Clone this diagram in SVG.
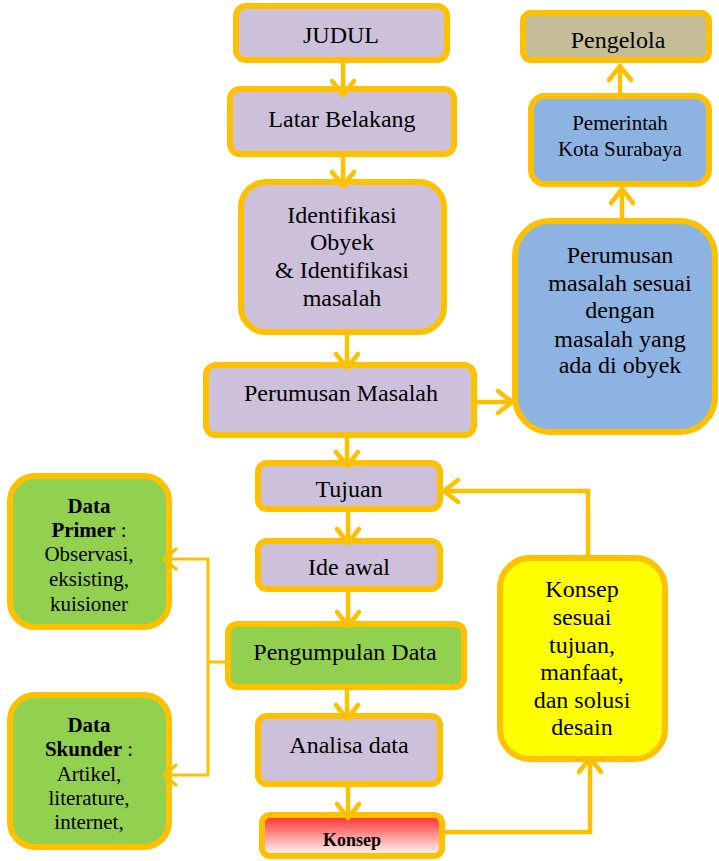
<svg xmlns="http://www.w3.org/2000/svg" width="719" height="861" viewBox="0 0 719 861" font-family="'Liberation Serif', 'Times New Roman', serif">
<style>
.b{stroke:#FFC000;stroke-width:6}
.pu{fill:#CCC0DA}
.gr{fill:#92D050}
.bl{fill:#8DB3E2}
.tn{fill:#C4BD97}
.ye{fill:#FFFF00}
text{font-family:'Liberation Serif','Times New Roman',serif;fill:#000;text-anchor:middle}
.t24{font-size:24px}
.t21{font-size:21px}
.bd{font-weight:bold}
.c{fill:none;stroke:#FFC000;stroke-width:4.5;marker-end:url(#ah)}
.ct{fill:none;stroke:#FFC000;stroke-width:3}
.ctm{fill:none;stroke:#FFC000;stroke-width:3;marker-end:url(#ah2)}
</style>
<defs>
<linearGradient id="red" x1="0" y1="0" x2="0" y2="1">
<stop offset="0" stop-color="#FF2A2A"/>
<stop offset="1" stop-color="#FFFFFF"/>
</linearGradient>
<marker id="ah" markerUnits="userSpaceOnUse" markerWidth="40" markerHeight="40" viewBox="-20 -20 40 40" refX="0" refY="0" orient="auto" overflow="visible">
<path d="M-14,-11 L0,0 L-14,11" fill="none" stroke="#FFC000" stroke-width="4.5" stroke-linecap="round" stroke-linejoin="round"/>
</marker>
<marker id="ah2" markerUnits="userSpaceOnUse" markerWidth="40" markerHeight="40" viewBox="-20 -20 40 40" refX="0" refY="0" orient="auto" overflow="visible">
<path d="M-12,-10 L0,0 L-12,10" fill="none" stroke="#FFC000" stroke-width="3.5" stroke-linecap="round" stroke-linejoin="round"/>
</marker>
</defs>

<g id="judul"><rect class="b pu" x="236" y="6" width="211" height="54" rx="10"/><text class="t24" x="341" y="43">JUDUL</text></g>
<g id="latar"><rect class="b pu" x="230" y="89" width="224" height="65" rx="10"/><text class="t24" x="342" y="127">Latar Belakang</text></g>
<g id="identifikasi"><rect class="b pu" x="241" y="182" width="203" height="150" rx="25"/>
<text class="t24" x="342" y="223">Identifikasi</text><text class="t24" x="342" y="250">Obyek</text><text class="t24" x="342" y="278">&amp; Identifikasi</text><text class="t24" x="342" y="306">masalah</text></g>
<g id="perumusan"><rect class="b pu" x="206" y="365" width="268" height="70" rx="10"/><text class="t24" x="341" y="401">Perumusan Masalah</text></g>
<g id="tujuan"><rect class="b pu" x="258" y="463" width="182" height="46" rx="9"/><text class="t24" x="349" y="497">Tujuan</text></g>
<g id="ideawal"><rect class="b pu" x="258" y="541" width="182" height="48" rx="9"/><text class="t24" x="349" y="575">Ide awal</text></g>
<g id="pengumpulan"><rect class="b gr" x="228" y="624" width="236" height="63" rx="9"/><text class="t24" x="345" y="660">Pengumpulan Data</text></g>
<g id="analisa"><rect class="b pu" x="258" y="716" width="182" height="68" rx="9"/><text class="t24" x="349" y="753">Analisa data</text></g>
<g id="konsep"><rect class="b" fill="url(#red)" x="262" y="815" width="180" height="41" rx="8"/><text class="bd" font-size="18" x="352" y="846">Konsep</text></g>

<g id="pengelola"><rect class="b tn" x="523" y="13" width="186" height="47" rx="8"/><text class="t24" x="618" y="48">Pengelola</text></g>
<g id="pemerintah"><rect class="b bl" x="531" y="96" width="178" height="88" rx="14"/><text class="t21" x="620" y="130">Pemerintah</text><text class="t21" x="620" y="156">Kota Surabaya</text></g>
<g id="perumusan-obyek"><rect class="b bl" x="515" y="221" width="200" height="211" rx="35"/>
<text class="t24" x="620" y="263">Perumusan</text><text class="t24" x="620" y="291">masalah sesuai</text><text class="t24" x="620" y="318">dengan</text><text class="t24" x="620" y="347">masalah yang</text><text class="t24" x="620" y="373">ada di obyek</text></g>
<g id="konsep-sesuai"><rect class="b ye" x="500" y="558" width="165" height="201" rx="30"/>
<text class="t24" x="582" y="597">Konsep</text><text class="t24" x="582" y="625">sesuai</text><text class="t24" x="582" y="653">tujuan,</text><text class="t24" x="582" y="680">manfaat,</text><text class="t24" x="582" y="708">dan solusi</text><text class="t24" x="582" y="735">desain</text></g>

<g id="data-primer"><rect class="b gr" x="10" y="476" width="159" height="151" rx="25"/>
<text class="t21 bd" x="89" y="513">Data</text><text class="t21" x="89" y="537"><tspan class="bd">Primer</tspan> :</text><text class="t21" x="89" y="561">Observasi,</text><text class="t21" x="89" y="586">eksisting,</text><text class="t21" x="89" y="611">kuisioner</text></g>
<g id="data-skunder"><rect class="b gr" x="10" y="695" width="159" height="152" rx="25"/>
<text class="t21 bd" x="89" y="732">Data</text><text class="t21" x="89" y="756"><tspan class="bd">Skunder</tspan> :</text><text class="t21" x="89" y="781">Artikel,</text><text class="t21" x="89" y="805">literature,</text><text class="t21" x="89" y="829">internet,</text></g>

<g id="connectors">
<path class="c" d="M343,63 V95"/>
<path class="c" d="M343,157 V186"/>
<path class="c" d="M347,335 V368"/>
<path class="c" d="M347,438 V466"/>
<path class="c" d="M348,512 V543"/>
<path class="c" d="M348,592 V626"/>
<path class="c" d="M347,690 V719"/>
<path class="c" d="M348,787 V818"/>
<path class="c" d="M477,402 H512"/>
<path class="c" d="M622,218 V189"/>
<path class="c" d="M620,93 V66"/>
<path class="c" d="M445,832 H590 V758"/>
<path class="c" d="M588,555 V491 H444"/>
<path class="ct" d="M225,662 H208"/>
<path class="ct" d="M208,559 V775"/>
<path class="ctm" d="M209,559 H164"/>
<path class="ctm" d="M209,775 H164"/>
</g>
</svg>
